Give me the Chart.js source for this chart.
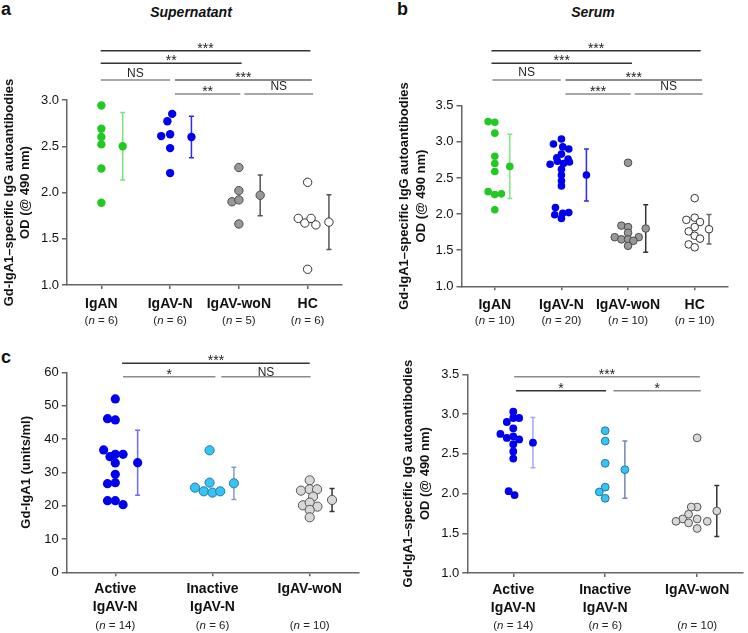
<!DOCTYPE html>
<html><head><meta charset="utf-8">
<script src="https://cdn.jsdelivr.net/npm/chart.js@4.4.1/dist/chart.umd.min.js"></script>
<style>
body{margin:0;background:#fff;width:748px;height:633px;position:relative;overflow:hidden;font-family:"Liberation Sans",Arial,sans-serif;}
canvas{position:absolute;}
.lbl{position:absolute;font-weight:bold;font-size:18px;color:#111;line-height:1;}
.ttl{position:absolute;font-weight:bold;font-style:italic;font-size:14px;color:#111;line-height:1;transform:translateX(-50%);white-space:nowrap;}
</style></head><body>
<div class="lbl" style="left:1px;top:0px">a</div>
<div class="ttl" style="left:191px;top:5px">Supernatant</div>
<div class="lbl" style="left:397px;top:0px">b</div>
<div class="ttl" style="left:593px;top:5px">Serum</div>
<div class="lbl" style="left:1px;top:348px">c</div>
<canvas id="ca" width="374" height="330" style="left:0;top:0"></canvas>
<canvas id="cb" width="374" height="330" style="left:374px;top:0"></canvas>
<canvas id="cc" width="374" height="303" style="left:0;top:330px"></canvas>
<canvas id="cd" width="374" height="303" style="left:374px;top:330px"></canvas>
<script>
// ---------- DATA ----------
const groupsAB = ['IgAN', 'IgAV-N', 'IgAV-woN', 'HC'];
const nSup = [6, 6, 5, 6];
const nSer = [10, 20, 10, 10];
const groupsCD = [['Active', 'IgAV-N'], ['Inactive', 'IgAV-N'], 'IgAV-woN'];
const nCD = [14, 6, 10];
const ticksOD_a = [1.0, 1.5, 2.0, 2.5, 3.0];
const ticksOD_b = [1.0, 1.5, 2.0, 2.5, 3.0, 3.5];
const ticksUnits = [0, 10, 20, 30, 40, 50, 60];

// (a) Supernatant OD values
const supIgAN   = [2.94, 2.69, 2.60, 2.52, 2.26, 1.89];
const supIgAVN  = [2.85, 2.77, 2.61, 2.63, 2.48, 2.21];
const supWoN    = [2.27, 2.02, 1.90, 1.92, 1.66];
const supHC     = [2.11, 1.72, 1.67, 1.72, 1.65, 1.17];
const supMean   = [2.50, 2.60, 1.97, 1.68];
const supSD     = [0.365, 0.225, 0.22, 0.295];

// (b) Serum OD values
const serIgAN   = [3.28, 3.27, 3.12, 2.80, 2.70, 2.59, 2.31, 2.27, 2.28, 2.06];
const serIgAVN  = [3.04, 2.97, 2.93, 2.90, 2.83, 2.78, 2.76, 2.73, 2.72, 2.69, 2.70, 2.62, 2.54, 2.46, 2.39, 2.09, 2.02, 2.01, 1.99, 1.94];
const serWoN    = [2.71, 1.84, 1.82, 1.74, 1.68, 1.65, 1.65, 1.68, 1.63, 1.56];
const serHC     = [2.22, 1.92, 1.95, 1.89, 1.82, 1.76, 1.70, 1.66, 1.58, 1.54];
const serMean   = [2.66, 2.54, 1.80, 1.79];
const serSD     = [0.445, 0.36, 0.33, 0.205];

// (c) Gd-IgA1 units/ml
const unitsActive   = [52.0, 46.1, 45.7, 36.7, 34.7, 35.4, 35.4, 32.8, 29.4, 26.6, 26.9, 21.5, 21.5, 20.3];
const unitsInactive = [36.6, 26.9, 25.4, 24.3, 23.9, 24.3];
const unitsWoN      = [27.6, 24.5, 24.9, 24.9, 22.7, 20.1, 20.9, 19.7, 18.7, 16.5];
const unitsMean     = [32.9, 26.7, 21.7];
const unitsSD       = [9.75, 4.85, 3.45];

// (d) Serum OD by activity
const odActive   = [3.03, 2.90, 2.95, 2.95, 2.82, 2.75, 2.70, 2.72, 2.68, 2.62, 2.53, 2.44, 2.03, 1.98];
const odInactive = [2.79, 2.66, 2.38, 2.08, 2.02, 1.94];
const odWoN      = [2.70, 1.83, 1.83, 1.74, 1.68, 1.65, 1.63, 1.68, 1.65, 1.56];
const odMean     = [2.64, 2.30, 1.78];
const odSD       = [0.315, 0.36, 0.32];

// ---------- LAYOUT (swarm offsets in category units, bracket annotations) ----------
const swarmA = [[0,0,0,0,0,0],[0.03,-0.04,-0.13,0,0,0],[0,0,-0.1,0,0],[0,-0.136,-0.04,0.05,0.12,0]];
const swarmB = [[-0.1,0,0,0,0,0,-0.1,0,0.1,0],
  [0,-0.12,0.02,0.11,0,-0.07,0.1,-0.06,0.12,-0.17,0.03,0,0,0,0,-0.09,0.11,0.02,-0.1,0],
  [0,-0.1,0,0,-0.2,-0.1,0,0.16,0.08,0],[0,-0.125,0,0.08,0,-0.09,0,0.08,-0.09,0]];
const swarmC = [[0,-0.08,0,-0.12,-0.055,0,0.08,0,0,-0.08,0,-0.08,0,0.08],[-0.03,-0.03,-0.18,-0.09,0,0.08],[0,-0.09,0,0.076,0.035,-0.07,0,0.08,0,0]];
const swarmD = [[0,-0.07,0,0.064,0,-0.14,-0.07,0,0.064,0,0,0,-0.05,0.014],[0,0,0,0,-0.064,0],[0,0,-0.064,-0.093,-0.157,-0.23,-0.093,0,0.11,0]];

const DARK = '#333', MID = '#666', GRAY = '#8a8a8a';
const bracketsA = [
  {from:-0.01,to:3.04,y:3.533,label:'***',color:DARK},
  {from:-0.01,to:2.04,y:3.397,label:'**',color:DARK},
  {from:-0.01,to:1.00,y:3.216,label:'NS',color:GRAY},
  {from:1.07,to:3.06,y:3.216,label:'***',color:MID},
  {from:1.07,to:2.02,y:3.065,label:'**',color:GRAY},
  {from:2.08,to:3.08,y:3.065,label:'NS',color:GRAY}];
const bracketsB = [
  {from:-0.05,to:3.09,y:4.262,label:'***',color:DARK},
  {from:-0.05,to:2.06,y:4.087,label:'***',color:DARK},
  {from:-0.036,to:0.99,y:3.856,label:'NS',color:GRAY},
  {from:1.06,to:3.11,y:3.856,label:'***',color:MID},
  {from:1.06,to:2.04,y:3.662,label:'***',color:GRAY},
  {from:2.10,to:3.12,y:3.662,label:'NS',color:GRAY}];
const bracketsC = [
  {from:0.07,to:2.0,y:62.7,label:'***',color:DARK},
  {from:0.08,to:1.03,y:58.7,label:'*',color:GRAY},
  {from:1.09,to:2.01,y:58.7,label:'NS',color:GRAY}];
const bracketsD = [
  {from:0.01,to:2.03,y:3.469,label:'***',color:GRAY},
  {from:0.03,to:1.01,y:3.293,label:'*',color:DARK},
  {from:1.09,to:2.04,y:3.293,label:'*',color:GRAY}];

Chart.defaults.font.family = '"Liberation Sans", Arial, sans-serif';
Chart.defaults.color = '#111';

const STY = {
  green:  {fill:'#22c922', stroke:'#22c922', bw:0},
  blue:   {fill:'#0000ee', stroke:'#0000ee', bw:0},
  grayD:  {fill:'#999999', stroke:'#4a4a4a', bw:1},
  white:  {fill:'#ffffff', stroke:'#333333', bw:1},
  cyan:   {fill:'#35c5f4', stroke:'#2877a8', bw:1},
  grayL:  {fill:'#d8d8d8', stroke:'#555555', bw:1}
};

function panel(id, cfg) {
  const datasets = [];
  cfg.values.forEach((vals, i) => {
    const s = STY[cfg.styles[i]];
    const base = {backgroundColor:s.fill, borderColor:s.stroke, borderWidth:s.bw,
                  pointRadius:cfg.r, pointHoverRadius:cfg.r};
    datasets.push(Object.assign({data: vals.map((v,k)=>({x:i+cfg.swarm[i][k], y:v}))}, base));
    datasets.push(Object.assign({data: [{x:i+cfg.meanOff[i], y:cfg.means[i]}]}, base));
  });
  const errPlugin = {
    id:'err'+id,
    beforeDatasetsDraw(chart){
      const ctx = chart.ctx, xs = chart.scales.x, ys = chart.scales.y;
      ctx.save(); ctx.lineWidth = 1.5;
      cfg.means.forEach((m,i)=>{
        const x = xs.getPixelForValue(i+cfg.meanOff[i]);
        const y1 = ys.getPixelForValue(m+cfg.sd[i]), y2 = ys.getPixelForValue(m-cfg.sd[i]);
        ctx.strokeStyle = cfg.errColors[i];
        ctx.beginPath();
        ctx.moveTo(x,y1); ctx.lineTo(x,y2);
        ctx.moveTo(x-2.5,y1); ctx.lineTo(x+2.5,y1);
        ctx.moveTo(x-2.5,y2); ctx.lineTo(x+2.5,y2);
        ctx.stroke();
      });
      ctx.restore();
    }
  };
  const annPlugin = {
    id:'ann'+id,
    afterDraw(chart){
      const ctx = chart.ctx, xs = chart.scales.x, ys = chart.scales.y;
      ctx.save();
      cfg.brackets.forEach(b=>{
        const x1 = xs.getPixelForValue(b.from), x2 = xs.getPixelForValue(b.to), y = ys.getPixelForValue(b.y);
        ctx.strokeStyle = b.color; ctx.lineWidth = 1.5;
        ctx.beginPath(); ctx.moveTo(x1,y); ctx.lineTo(x2,y); ctx.stroke();
        ctx.fillStyle = '#222'; ctx.textAlign = 'center'; ctx.textBaseline = 'alphabetic';
        if (b.label === 'NS') { ctx.font = '12px "Liberation Sans", Arial'; ctx.fillText(b.label,(x1+x2)/2, y - cfg.nsGap); }
        else { ctx.font = '14px "Liberation Sans", Arial'; ctx.fillText(b.label,(x1+x2)/2, y + 2); }
      });
      // n labels
      ctx.textBaseline = 'middle'; ctx.fillStyle = '#222';
      const f = '11.5px "Liberation Sans", Arial', fi = 'italic 11.5px "Liberation Sans", Arial';
      cfg.n.forEach((n,i)=>{
        const parts = [['(',f],['n',fi],[' = '+n+')',f]];
        let w = 0; parts.forEach(p=>{ctx.font=p[1]; w+=ctx.measureText(p[0]).width;});
        let x = xs.getPixelForValue(i) - w/2;
        ctx.textAlign = 'left';
        parts.forEach(p=>{ctx.font=p[1]; ctx.fillText(p[0],x,cfg.nY); x+=ctx.measureText(p[0]).width;});
      });
      ctx.restore();
    }
  };
  new Chart(document.getElementById(id), {
    type:'scatter',
    data:{datasets},
    options:{
      responsive:false, animation:false, devicePixelRatio:1, events:[],
      layout:{padding:cfg.pad},
      plugins:{legend:{display:false}, tooltip:{enabled:false}},
      scales:{
        x:{type:'linear', min:-0.5, max:cfg.cats.length-0.5,
           afterBuildTicks:s=>{ s.ticks = cfg.cats.map((c,i)=>({value:i})); },
           afterFit:s=>{ s.height = cfg.xH; },
           ticks:{autoSkip:false, maxRotation:0, minRotation:0, padding:cfg.xPad, color:'#111',
                  font:{size:14, weight:'bold', lineHeight:1.25},
                  callback:(v)=>cfg.cats[Math.round(v)]},
           grid:{drawOnChartArea:false, drawTicks:true, tickLength:4, color:'#666', lineWidth:1.5},
           border:{color:'#666', width:1.5}},
        y:{type:'linear', min:cfg.yTicks[0], max:cfg.yTicks[cfg.yTicks.length-1],
           afterBuildTicks:s=>{ s.ticks = cfg.yTicks.map(v=>({value:v})); },
           afterFit:s=>{ s.width = cfg.yW; },
           ticks:{padding:3, color:'#111', font:{size:13}, callback:cfg.yFmt},
           grid:{drawOnChartArea:false, drawTicks:true, tickLength:5, color:'#666', lineWidth:1.5},
           border:{color:'#666', width:1.5},
           title:{display:true, text:cfg.yTitle, color:'#111', font:{size:13, weight:'bold', lineHeight:1.3},
                  padding:{top:cfg.yTitlePad, bottom:0}}}
      }
    },
    plugins:[errPlugin, annPlugin]
  });
}

const fmt1 = v => Number(v).toFixed(1);
const fmt0 = v => String(v);
const odTitle = ['Gd-IgA1\u2013specific IgG autoantibodies', 'OD (@ 490 nm)'];

panel('ca', {cats:groupsAB, n:nSup, values:[supIgAN, supIgAVN, supWoN, supHC], swarm:swarmA,
  means:supMean, sd:supSD, meanOff:[0.31,0.31,0.31,0.31],
  styles:['green','blue','grayD','white'], errColors:['#80e080','#2b2bee','#555','#555'],
  r:4.2, yTicks:ticksOD_a, yFmt:fmt1, yTitle:odTitle, yTitlePad:0.5, brackets:bracketsA, nsGap:3.5,
  pad:{left:0, top:100, right:32, bottom:0}, yW:67, xH:45, xPad:6, nY:321});

panel('cb', {cats:groupsAB, n:nSer, values:[serIgAN, serIgAVN, serWoN, serHC], swarm:swarmB,
  means:serMean, sd:serSD, meanOff:[0.225,0.375,0.265,0.215],
  styles:['green','blue','grayD','white'], errColors:['#80e880','#2b2bee','#333','#666'],
  r:3.8, yTicks:ticksOD_b, yFmt:fmt1, yTitle:odTitle, yTitlePad:22, brackets:bracketsB, nsGap:3.5,
  pad:{left:0, top:105.7, right:20, bottom:0}, yW:87.5, xH:43.7, xPad:6, nY:321});

panel('cc', {cats:groupsCD, n:nCD, values:[unitsActive, unitsInactive, unitsWoN], swarm:swarmC,
  means:unitsMean, sd:unitsSD, meanOff:[0.23,0.22,0.23],
  styles:['blue','cyan','grayL'], errColors:['#6b6bff','#8a9cc0','#333'],
  r:4.6, yTicks:ticksUnits, yFmt:fmt0, yTitle:'Gd-IgA1 (units/ml)', yTitlePad:18, brackets:bracketsC, nsGap:1,
  pad:{left:0, top:42.3, right:15.7, bottom:0}, yW:66.7, xH:60.7, xPad:4.5, nY:295.5});

panel('cd', {cats:groupsCD, n:nCD, values:[odActive, odInactive, odWoN], swarm:swarmD,
  means:odMean, sd:odSD, meanOff:[0.214,0.214,0.214],
  styles:['blue','cyan','grayL'], errColors:['#a8a8ee','#7888aa','#333'],
  r:3.9, yTicks:ticksOD_b, yFmt:fmt1, yTitle:odTitle, yTitlePad:26, brackets:bracketsD, nsGap:1,
  pad:{left:0, top:44.3, right:0.7, bottom:0}, yW:93.3, xH:60, xPad:4.5, nY:295.5});
</script>
</body></html>
